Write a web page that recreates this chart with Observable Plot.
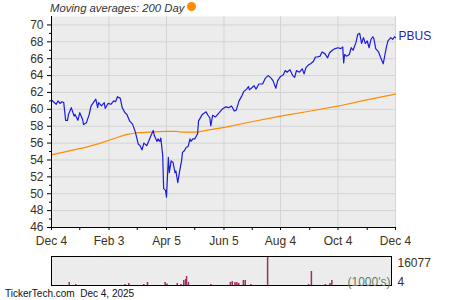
<!DOCTYPE html>
<html><head><meta charset="utf-8">
<script src="https://cdn.jsdelivr.net/npm/d3@7"></script>
<script src="https://cdn.jsdelivr.net/npm/@observablehq/plot@0.6"></script>
<style>
body{margin:0;background:#fff;font-family:Arial,"Liberation Sans",sans-serif;}
#wrap{position:relative;width:450px;height:300px;overflow:hidden;}
#wrap svg{position:absolute;left:0;}
.legend{position:absolute;left:50px;top:1px;font-size:11.3px;font-style:italic;color:#333;line-height:14px;white-space:nowrap;}
.dot{position:absolute;left:187px;top:2px;width:9px;height:9px;border-radius:50%;background:#ff8c00;}
.footer{position:absolute;left:5px;top:288px;font-size:10px;line-height:12px;color:#111;white-space:pre;}
</style></head><body><div id="wrap"></div>
<script>
const ticker = "PBUS";
const legendText = "Moving averages: 200 Day";
const footerText = "TickerTech.com  Dec 4, 2025";

const priceDates = ["2024-12-04","2024-12-06","2024-12-09","2024-12-11","2024-12-13","2024-12-15","2024-12-17","2024-12-19","2024-12-21","2024-12-22","2024-12-25","2024-12-28","2024-12-29",
"2025-01-01","2025-01-03","2025-01-06","2025-01-07","2025-01-10","2025-01-13","2025-01-15","2025-01-20","2025-01-22","2025-01-23","2025-01-26","2025-01-29","2025-01-30",
"2025-02-02","2025-02-05","2025-02-08","2025-02-10","2025-02-12","2025-02-15","2025-02-17","2025-02-20","2025-02-22","2025-02-25","2025-02-28",
"2025-03-03","2025-03-06","2025-03-08","2025-03-10","2025-03-12","2025-03-15","2025-03-17","2025-03-19","2025-03-22","2025-03-23","2025-03-26","2025-03-27","2025-03-29","2025-03-30",
"2025-04-01","2025-04-02","2025-04-04","2025-04-05","2025-04-07","2025-04-08","2025-04-10","2025-04-12","2025-04-14","2025-04-15","2025-04-17","2025-04-19","2025-04-21","2025-04-22","2025-04-24","2025-04-26","2025-04-28","2025-04-30",
"2025-05-01","2025-05-03","2025-05-05","2025-05-08","2025-05-09","2025-05-13","2025-05-17","2025-05-19","2025-05-21","2025-05-22","2025-05-24","2025-05-27","2025-05-31",
"2025-06-03","2025-06-07","2025-06-10","2025-06-13","2025-06-16","2025-06-18","2025-06-21","2025-06-24","2025-06-26","2025-06-29",
"2025-07-01","2025-07-02","2025-07-04","2025-07-07","2025-07-09","2025-07-12","2025-07-16","2025-07-19","2025-07-22","2025-07-25","2025-07-27","2025-07-30",
"2025-08-01","2025-08-04","2025-08-07","2025-08-09","2025-08-11","2025-08-14","2025-08-17","2025-08-19","2025-08-21","2025-08-24","2025-08-27","2025-08-29","2025-08-31",
"2025-09-03","2025-09-05","2025-09-08","2025-09-10","2025-09-12","2025-09-15","2025-09-17","2025-09-20","2025-09-23","2025-09-25","2025-09-28",
"2025-10-01","2025-10-04","2025-10-07","2025-10-09","2025-10-10","2025-10-11","2025-10-13","2025-10-16","2025-10-18","2025-10-20","2025-10-23","2025-10-25","2025-10-27","2025-10-29","2025-10-31",
"2025-11-02","2025-11-04","2025-11-06","2025-11-08","2025-11-10","2025-11-11","2025-11-13","2025-11-16","2025-11-18","2025-11-21","2025-11-24","2025-11-26","2025-11-29",
"2025-12-01","2025-12-03","2025-12-04"];
const priceValues = [61.1,60.9,60.6,61.0,60.7,60.9,60.8,58.7,58.7,59.4,60.2,59.2,59.4,
58.7,59.6,58.8,58.2,58.4,59.4,60.4,61.2,60.2,60.8,60.4,60.8,60.1,
60.7,60.6,61.0,60.9,61.5,61.3,60.2,59.6,59.4,58.6,58.25,
57.3,55.9,55.7,55.2,56.0,55.7,56.2,56.75,57.5,56.9,56.2,56.5,56.2,56.6,
54.5,50.6,50.4,49.6,54.3,52.5,53.9,53.7,52.5,52.7,51.3,52.7,53.9,54.9,55.1,55.5,55.6,56.5,
56.2,56.5,56.5,57.1,58.6,59.4,59.7,59.3,59.0,58.05,59.3,59.1,59.6,
60.0,60.3,60.2,60.4,59.8,59.9,61.0,61.6,62.1,62.4,
62.7,62.3,62.5,62.8,62.4,63.0,63.0,63.7,64.0,63.7,63.4,62.5,
63.4,63.9,64.1,64.6,64.4,64.7,64.0,63.8,64.6,64.4,64.8,64.2,64.95,
65.3,65.4,65.7,66.2,66.2,66.3,66.8,66.6,66.1,66.7,67.0,
67.2,67.3,67.2,67.4,65.5,66.5,66.3,66.5,67.3,67.0,67.9,68.9,69.0,67.8,68.5,
67.8,68.1,67.3,68.3,68.6,68.4,67.2,66.8,66.2,65.4,67.2,68.1,68.5,
68.3,68.6,68.5];

const maDates = ["2024-12-04","2024-12-24","2025-01-09","2025-01-25","2025-02-10","2025-02-21","2025-03-03","2025-03-19","2025-04-04","2025-04-15","2025-04-20","2025-05-08","2025-05-17","2025-06-07","2025-07-03","2025-08-04","2025-09-05","2025-10-05","2025-11-02","2025-12-04"];
const maValues = [54.6,55.1,55.5,56.0,56.6,57.0,57.2,57.3,57.4,57.4,57.3,57.3,57.5,57.9,58.5,59.2,59.8,60.4,61.1,61.8];

const volDates = ["2024-12-23","2024-12-30","2025-02-21","2025-02-25","2025-03-13","2025-03-17","2025-04-05","2025-04-07","2025-04-18","2025-04-22","2025-04-25","2025-04-27","2025-04-28","2025-04-30","2025-05-24","2025-06-14","2025-06-16","2025-06-19","2025-06-21","2025-06-23","2025-06-28","2025-06-30","2025-07-06","2025-07-24","2025-09-06","2025-09-09","2025-09-24","2025-09-29","2025-10-01"];
const volValues = [1660,550,550,1100,550,1660,1660,830,1100,550,2770,3300,5000,1660,550,1660,2200,1660,1660,1100,2770,2770,550,16077,550,7760,550,1100,2770];
const volMaxLabel = "16077";
const volMinLabel = "4";
const volUnit = "(1000's)";

const xTickDates = ["2024-12-04","2025-02-03","2025-04-05","2025-06-05","2025-08-04","2025-10-04","2025-12-04"];
const xMinorDates = ["2025-01-03","2025-03-05","2025-05-05","2025-07-05","2025-09-04","2025-11-04"];
const yTicks = [46,48,50,52,54,56,58,60,62,64,66,68,70];
const yMinor = [47,49,51,53,55,57,59,61,63,65,67,69];

const P = s => new Date(s + "T00:00:00Z");
const price = priceDates.map((d,i)=>({date:P(d), value:priceValues[i]}));
const ma = maDates.map((d,i)=>({date:P(d), value:maValues[i]}));
const vol = volDates.map((d,i)=>({date:P(d), value:volValues[i]}));
const xDomain = [P(xTickDates[0]), P(xTickDates[xTickDates.length-1])];
const fmt = d3.utcFormat("%b %-d");
const font = "Arial, 'Liberation Sans', sans-serif";
const labelColor = "#3d3020";

const main = Plot.plot({
  width:450, height:245,
  marginLeft:51, marginRight:55, marginTop:16, marginBottom:18,
  style:{fontFamily:font, fontSize:"12px", background:"transparent", overflow:"visible"},
  x:{type:"utc", domain:xDomain},
  y:{domain:[46,71]},
  marks:[
    Plot.frame({fill:"#ececec", stroke:null}),
    Plot.gridY(yTicks, {stroke:"#d4d4d4", strokeOpacity:1}),
    Plot.gridX(xTickDates.map(P), {stroke:"#d4d4d4", strokeOpacity:1}),
    Plot.lineY(ma, {x:"date", y:"value", stroke:"#ff8c00", strokeWidth:1.2}),
    Plot.lineY(price, {x:"date", y:"value", stroke:"#1c1cdc", strokeWidth:1.2}),
    Plot.text([price[price.length-1]], {x:"date", y:"value", text:()=>ticker, textAnchor:"start", dx:3, dy:-1, fill:"#2222cc", fontSize:12}),
    Plot.axisY(yTicks, {label:null, tickSize:4, tickPadding:4, stroke:"#000", fill:labelColor, fontSize:12}),
    Plot.axisY(yMinor, {label:null, tickSize:2, tickFormat:()=>"", stroke:"#000"}),
    Plot.axisX(xTickDates.map(P), {label:null, tickSize:3, tickPadding:6, tickFormat:fmt, stroke:"#000", fill:labelColor, fontSize:12}),
    Plot.axisX(xMinorDates.map(P), {label:null, tickSize:3, tickFormat:()=>"", stroke:"#000"}),
    Plot.ruleX([xDomain[0]], {stroke:"#000"}),
    Plot.ruleY([46], {stroke:"#000"})
  ]
});
main.style.top = "0px";

const volPlot = Plot.plot({
  width:450, height:40,
  marginLeft:51, marginRight:59, marginTop:6, marginBottom:5,
  style:{fontFamily:font, fontSize:"12px", background:"transparent", overflow:"visible"},
  x:{type:"utc", domain:xDomain, axis:null},
  y:{domain:[0,16077], axis:null},
  marks:[
    Plot.frame({fill:"#ececec", stroke:null}),
    Plot.ruleX(vol, {x:"date", y1:0, y2:"value", stroke:"#9c2f63", strokeWidth:1.5}),
    Plot.frame({stroke:"#000", fill:null}),
    Plot.text([volMaxLabel], {frameAnchor:"top-right", lineAnchor:"middle", text:d=>d, textAnchor:"start", dx:6, dy:7, fill:labelColor, fontSize:12}),
    Plot.text([volMinLabel], {frameAnchor:"bottom-right", lineAnchor:"middle", text:d=>d, textAnchor:"start", dx:6, dy:-3, fill:labelColor, fontSize:12}),
    Plot.text([volUnit], {frameAnchor:"bottom-right", lineAnchor:"middle", text:d=>d, textAnchor:"end", dx:-1, dy:-3, fill:"#5d7d68", fontSize:12})
  ]
});
volPlot.style.top = "250px";

const wrap = document.getElementById("wrap");
wrap.appendChild(main);
wrap.appendChild(volPlot);
const lg = document.createElement("div"); lg.className = "legend"; lg.textContent = legendText; wrap.appendChild(lg);
const dot = document.createElement("div"); dot.className = "dot"; wrap.appendChild(dot);
const ft = document.createElement("div"); ft.className = "footer"; ft.textContent = footerText; wrap.appendChild(ft);
</script></body></html>
